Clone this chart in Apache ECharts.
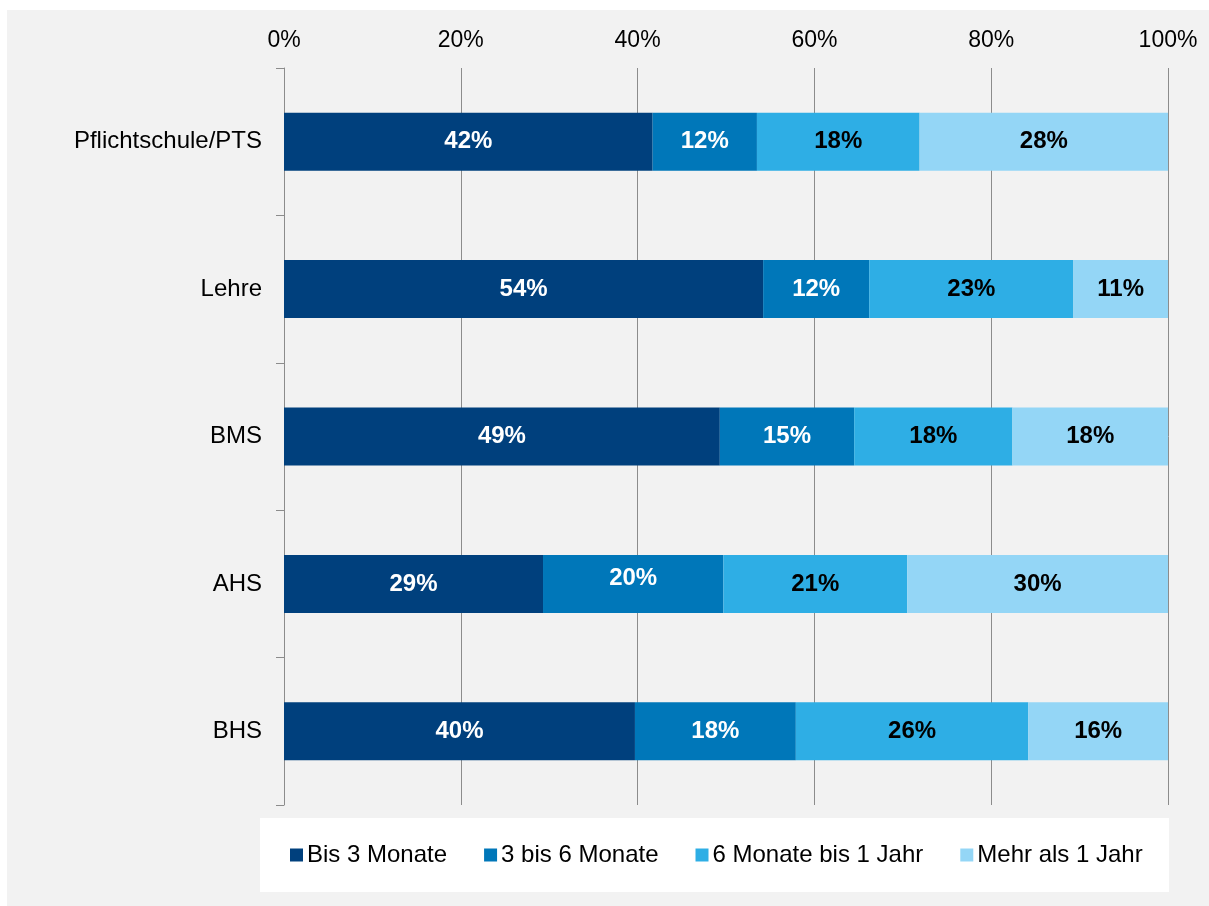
<!DOCTYPE html>
<html>
<head>
<meta charset="utf-8">
<script src="https://cdn.jsdelivr.net/npm/echarts@6/dist/echarts.min.js"></script>
<style>
html,body{margin:0;padding:0;background:#fff;}
#chart{width:1209px;height:906px;}
</style>
</head>
<body>
<div id="chart"></div>
<script>
const categories = ['Pflichtschule/PTS', 'Lehre', 'BMS', 'AHS', 'BHS'];
const seriesNames = ['Bis 3 Monate', '3 bis 6 Monate', '6 Monate bis 1 Jahr', 'Mehr als 1 Jahr'];
const bis3 = [41.7, 54.2, 49.3, 29.3, 39.7];
const bis6 = [11.8, 12.0, 15.2, 20.4, 18.2];
const bis1j = [18.4, 23.1, 17.9, 20.8, 26.3];
const mehr1j = [28.1, 10.7, 17.6, 29.5, 15.8];
const xTicks = [0, 20, 40, 60, 80, 100];

const colors = ['#00407d', '#0077b9', '#2eaee5', '#94d6f6'];
const labelColors = ['#ffffff', '#ffffff', '#000000', '#000000'];
const values = [bis3, bis6, bis1j, mehr1j];

const chart = echarts.init(document.getElementById('chart'), null, {renderer: 'canvas'});
const FONT = '"Liberation Sans", Arial, sans-serif';

const series = values.map((arr, i) => ({
  name: seriesNames[i],
  type: 'bar',
  stack: 'total',
  barWidth: 58,
  itemStyle: {color: colors[i]},
  emphasis: {disabled: true},
  label: {
    show: true,
    position: 'inside',
    color: labelColors[i],
    fontFamily: FONT,
    fontWeight: 'bold',
    fontSize: 24,
    formatter: p => Math.round(p.value) + '%'
  },
  data: arr.map((v, j) => {
    if (i === 1 && categories[j] === 'AHS') {
      return {value: v, label: {offset: [0, -6]}};
    }
    return v;
  })
}));

chart.setOption({
  animation: false,
  backgroundColor: '#ffffff',
  graphic: [
    {type: 'rect', z: -10, silent: true, shape: {x: 7, y: 10, width: 1202, height: 896}, style: {fill: '#f2f2f2'}},
    {type: 'rect', z: -5, silent: true, shape: {x: 260, y: 818, width: 909, height: 74}, style: {fill: '#ffffff'}}
  ],
  grid: {left: 284, right: 41, top: 68, bottom: 101, containLabel: false},
  xAxis: {
    type: 'value',
    position: 'top',
    min: xTicks[0],
    max: xTicks[xTicks.length - 1],
    interval: xTicks[1] - xTicks[0],
    axisLine: {show: false},
    axisTick: {show: false},
    splitLine: {show: true, lineStyle: {color: '#8c8c8c', width: 1}},
    axisLabel: {
      color: '#000',
      fontFamily: FONT,
      fontSize: 23,
      margin: 16,
      formatter: '{value}%'
    }
  },
  yAxis: {
    type: 'category',
    inverse: true,
    data: categories,
    axisLine: {show: true, lineStyle: {color: '#8c8c8c', width: 1}},
    axisTick: {show: true, length: 8, lineStyle: {color: '#8c8c8c'}},
    axisLabel: {
      color: '#000',
      fontFamily: FONT,
      fontSize: 24,
      margin: 22
    }
  },
  legend: {
    top: 843,
    left: 290,
    padding: 0,
    icon: 'rect',
    itemWidth: 13,
    itemHeight: 13,
    itemGap: 37,
    selectedMode: false,
    textStyle: {
      color: '#000',
      fontFamily: FONT,
      fontSize: 24,
      padding: [0, 0, 0, -1]
    },
    data: seriesNames
  },
  series: series
});
</script>
</body>
</html>
